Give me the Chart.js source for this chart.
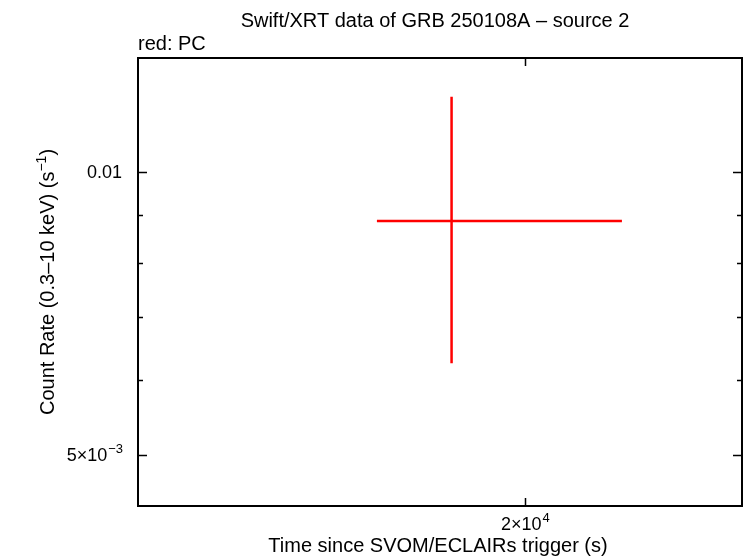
<!DOCTYPE html>
<html>
<head>
<meta charset="utf-8">
<script src="https://cdn.jsdelivr.net/npm/chart.js@4/dist/chart.umd.min.js"></script>
<style>
  html, body { margin:0; padding:0; background:#fff; }
  #wrap { width:746px; height:558px; }
</style>
</head>
<body>
<div id="wrap"><canvas id="lc" width="746" height="558"></canvas></div>
<script>
/* Swift/XRT light curve, source 2 — one PC bin, log/log axes */

const binTime   = [18151];   // s since trigger
const binT0     = [16443];   // bin start
const binT1     = [22742];   // bin end
const binRate   = [0.00886]; // counts/s
const binRateLo = [0.006258];
const binRateHi = [0.01201];

const xRange = [11985, 26660];
const yRange = [0.0044133, 0.0132];

const xMajor = [20000];
const yMajor = [0.01, 0.005];
const yMinor = [0.006, 0.007, 0.008, 0.009];

const FONT = '"Liberation Sans", Arial, Helvetica, sans-serif';

const points = binTime.map((t, i) => ({ x: t, y: binRate[i], x0: binT0[i], x1: binT1[i], y0: binRateLo[i], y1: binRateHi[i] }));

/* base + superscript, anchored by align at (x,y) on the baseline */
function supText(ctx, base, sup, x, y, size, align){
  const ss = Math.round(size * 0.7);
  ctx.font = size + 'px ' + FONT;
  const wb = ctx.measureText(base).width;
  ctx.font = ss + 'px ' + FONT;
  const ws = ctx.measureText(sup).width;
  const w = wb + ws;
  let left = x;
  if (align === 'center') left = x - w / 2;
  else if (align === 'right') left = x - w;
  ctx.textAlign = 'left';
  ctx.textBaseline = 'alphabetic';
  ctx.font = size + 'px ' + FONT;
  ctx.fillText(base, left, y);
  ctx.font = ss + 'px ' + FONT;
  ctx.fillText(sup, left + wb + 1, y - size * 0.42);
}

const errBars = {
  id: 'errBars',
  afterDatasetsDraw(chart){
    const { ctx, scales: { x, y } } = chart;
    ctx.save();
    ctx.strokeStyle = '#ff0000';
    ctx.lineWidth = 2.5;
    points.forEach(p => {
      const px = x.getPixelForValue(p.x), py = y.getPixelForValue(p.y);
      ctx.beginPath();
      ctx.moveTo(x.getPixelForValue(p.x0), py);
      ctx.lineTo(x.getPixelForValue(p.x1), py);
      ctx.moveTo(px, y.getPixelForValue(p.y0));
      ctx.lineTo(px, y.getPixelForValue(p.y1));
      ctx.stroke();
    });
    ctx.restore();
  }
};

const frame = {
  id: 'frame',
  afterDraw(chart){
    const { ctx, chartArea: a, scales: { x, y } } = chart;
    ctx.save();
    ctx.strokeStyle = '#000';
    ctx.lineWidth = 2;
    ctx.strokeRect(a.left, a.top, a.right - a.left, a.bottom - a.top);

    ctx.beginPath();
    ctx.lineWidth = 1.5;
    xMajor.forEach(v => {
      const px = Math.round(x.getPixelForValue(v)) + 0.5;
      ctx.moveTo(px, a.bottom); ctx.lineTo(px, a.bottom - 8);
      ctx.moveTo(px, a.top);    ctx.lineTo(px, a.top + 8);
    });
    yMajor.forEach(v => {
      const py = Math.round(y.getPixelForValue(v)) + 0.5;
      ctx.moveTo(a.left, py);  ctx.lineTo(a.left + 9, py);
      ctx.moveTo(a.right, py); ctx.lineTo(a.right - 9, py);
    });
    yMinor.forEach(v => {
      const py = Math.round(y.getPixelForValue(v)) + 0.5;
      ctx.moveTo(a.left, py);  ctx.lineTo(a.left + 5, py);
      ctx.moveTo(a.right, py); ctx.lineTo(a.right - 5, py);
    });
    ctx.stroke();

    ctx.fillStyle = '#000';
    // tick labels
    ctx.font = '18px ' + FONT;
    ctx.textAlign = 'right';
    ctx.textBaseline = 'alphabetic';
    ctx.fillText('0.01', a.left - 16, y.getPixelForValue(0.01) + 6);
    supText(ctx, '5\u00d710', '\u22123', a.left - 16, y.getPixelForValue(0.005) + 6, 18, 'right');
    supText(ctx, '2\u00d710', '4', x.getPixelForValue(20000), a.bottom + 24, 18, 'center');

    // titles
    ctx.font = '20px ' + FONT;
    ctx.textAlign = 'center';
    ctx.textBaseline = 'alphabetic';
    ctx.fillText('Swift/XRT data of GRB 250108A \u2013 source 2', 435, 27);
    ctx.fillText('Time since SVOM/ECLAIRs trigger (s)', 438, 552);
    ctx.textAlign = 'left';
    ctx.fillText('red: PC', a.left, 50);

    ctx.translate(54, 282);
    ctx.rotate(-Math.PI / 2);
    ctx.font = '20px ' + FONT;
    const base = 'Count Rate (0.3\u201310 keV) (s';
    const wb = ctx.measureText(base).width;
    ctx.font = '14px ' + FONT;
    const ws = ctx.measureText('\u22121').width;
    ctx.font = '20px ' + FONT;
    const wc = ctx.measureText(')').width;
    const left = -(wb + ws + wc) / 2;
    ctx.fillText(base, left, 0);
    ctx.font = '14px ' + FONT;
    ctx.fillText('\u22121', left + wb, -8);
    ctx.font = '20px ' + FONT;
    ctx.fillText(')', left + wb + ws, 0);
    ctx.restore();
  }
};

new Chart(document.getElementById('lc'), {
  type: 'scatter',
  data: { datasets: [{ data: points, pointRadius: 0, showLine: false, borderColor: '#ff0000' }] },
  options: {
    responsive: false,
    animation: false,
    layout: { padding: { left: 138, right: 4, top: 58, bottom: 52 } },
    plugins: { legend: { display: false }, tooltip: { enabled: false }, title: { display: false } },
    scales: {
      x: { type: 'logarithmic', min: xRange[0], max: xRange[1], display: false },
      y: { type: 'logarithmic', min: yRange[0], max: yRange[1], display: false }
    }
  },
  plugins: [errBars, frame]
});
</script>
</body>
</html>
